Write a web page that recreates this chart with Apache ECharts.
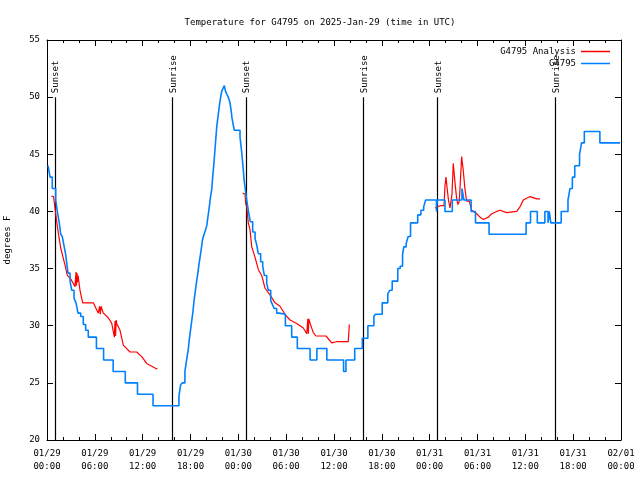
<!DOCTYPE html>
<html><head><meta charset="utf-8">
<script src="https://cdn.jsdelivr.net/npm/echarts@6/dist/echarts.min.js"></script>
<style>html,body{margin:0;padding:0;background:#fff}#c{width:640px;height:480px}</style>
</head><body><div id="c"></div>
<script>
// hours since 2025-01-29 00:00 UTC
const xTickLabels = ['01/29\n00:00','01/29\n06:00','01/29\n12:00','01/29\n18:00','01/30\n00:00','01/30\n06:00','01/30\n12:00','01/30\n18:00','01/31\n00:00','01/31\n06:00','01/31\n12:00','01/31\n18:00','02/01\n00:00'];

const sunEvents = [[0.96,'Sunset'],[15.72,'Sunrise'],[24.92,'Sunset'],[39.68,'Sunrise'],[48.96,'Sunset'],[63.77,'Sunrise']];

const stationObs = [[0.13,44],[0.38,43],[0.66,42],[1.09,41],[1.29,40],[1.54,39],[1.72,38],[1.92,37.8],[2.13,37],[2.35,36.2],[2.47,35.5],[2.63,34.6],[2.89,33.9],[3.10,33.1],[3.39,32.4],[3.64,32],[3.89,31.1],[4.23,30.8],[4.55,30.1],[4.85,29.6],[5.18,29],[6.2,28],[7.1,27],[8.3,26],[9.82,25],[11.35,24],[13.3,23],[16.55,23.8],[16.75,24.8],[16.95,25],[17.3,26],[17.45,26.7],[17.6,27.4],[17.72,27.9],[17.85,28.8],[18.0,29.6],[18.15,30.4],[18.3,31.2],[18.45,32.2],[18.6,33],[18.75,33.8],[18.9,34.5],[19.05,35.3],[19.2,36],[19.35,36.7],[19.5,37.5],[19.7,38],[19.9,38.4],[20.05,38.8],[20.2,39.6],[20.36,40.4],[20.5,41.2],[20.66,41.9],[20.76,42.8],[20.86,43.6],[20.97,44.5],[21.07,45.4],[21.18,46.4],[21.29,47.4],[21.45,48.3],[21.61,49.2],[21.76,49.9],[21.91,50.5],[22.1,50.8],[22.24,51],[22.4,50.5],[22.6,50.2],[22.74,50],[22.96,49.5],[23.1,48.8],[23.2,48.2],[23.35,47.6],[23.5,47.1],[24.21,46.5],[24.34,45.7],[24.45,45],[24.55,44.2],[24.65,43.4],[24.75,42.6],[24.9,41.8],[25.05,41],[25.25,40.1],[25.5,39.1],[25.8,38.2],[26.1,37.6],[26.3,37.1],[26.5,36.3],[26.8,35.6],[27.06,35.2],[27.26,34.4],[27.56,33.7],[27.76,33.1],[28.06,32.2],[28.31,31.8],[28.51,31.5],[28.81,31.1],[29.14,31],[29.9,30],[30.69,29],[31.4,28],[33.0,27],[33.85,28],[35.1,27],[37.2,26],[37.5,27],[38.6,28],[39.55,28.9],[40.25,30],[41.0,30.8],[41.2,31],[42.05,32],[42.75,32.8],[43.0,33.1],[43.3,33.9],[44.0,35],[44.3,35.2],[44.6,36.2],[44.75,36.9],[45.05,37.2],[45.3,37.8],[45.6,39],[46.5,39.7],[46.9,40.1],[47.25,40.4],[47.5,41],[48.85,40],[48.95,41],[49.92,40],[50.84,41],[52.05,42],[52.3,41],[53.2,40],[53.75,39],[55.45,38],[60.1,39],[60.65,40],[61.5,39],[62.45,40],[62.85,39],[63.0,40],[63.2,39],[64.5,40],[65.35,41],[65.6,42],[65.9,43],[66.2,44],[66.8,45],[67.05,46],[67.4,47],[69.35,46],[71.9,46]];

const analysisDay1 = [[0.54,41.35],[0.82,41.3],[1.0,40.3],[1.22,39.1],[1.51,37.7],[1.72,36.8],[2.01,36.0],[2.26,35.3],[2.55,34.4],[2.97,34.1],[3.3,33.7],[3.51,33.4],[3.64,34.7],[3.7,33.5],[3.76,34.6],[3.82,33.8],[3.89,34.4],[4.14,33.1],[4.48,32.0],[5.81,32.0],[6.44,31.1],[6.59,31.7],[6.69,31.0],[6.78,31.7],[7.06,31.1],[7.69,30.7],[8.12,30.2],[8.45,29.0],[8.53,30.4],[8.6,29.1],[8.68,30.5],[8.74,30.2],[9.16,29.6],[9.57,28.3],[10.41,27.7],[11.25,27.7],[11.45,27.8],[11.88,27.3],[12.51,26.7],[13.55,26.3],[13.84,26.2]];

const analysisDay2 = [[24.55,41.6],[24.84,41.5],[24.92,40.7],[25.05,40.4],[25.25,39.0],[25.46,38.4],[25.55,37.8],[25.68,36.9],[25.8,36.8],[26.09,36.0],[26.51,34.9],[26.93,34.4],[27.34,33.3],[27.97,32.7],[28.6,32.0],[29.23,31.7],[29.85,31.0],[30.48,30.5],[31.32,30.2],[32.15,29.8],[32.58,29.3],[32.72,30.6],[32.78,29.3],[32.84,30.6],[32.92,30.4],[33.15,29.9],[33.4,29.4],[33.74,29.1],[35.0,29.1],[35.71,28.5],[36.34,28.6],[37.79,28.6],[37.92,30.1]];

const analysisDay3 = [[48.67,40.3],[49.3,40.5],[49.8,40.5],[49.92,42.2],[50.05,43.0],[50.21,41.9],[50.36,41.0],[50.55,40.3],[50.68,40.4],[50.8,41.5],[50.96,44.2],[51.18,42.5],[51.39,41.1],[51.55,40.6],[51.72,40.9],[51.84,41.0],[52.01,44.8],[52.21,43.6],[52.42,42.0],[52.64,40.9],[52.97,40.9],[53.27,40.1],[53.9,39.8],[54.31,39.5],[54.73,39.3],[55.36,39.5],[55.78,39.8],[56.41,40.0],[56.82,40.1],[57.66,39.9],[58.92,40.0],[59.33,40.4],[59.75,41.0],[60.59,41.3],[61.43,41.1],[61.84,41.1]];

const FONT = 'DejaVu Sans Mono';
const RED = '#ff0000', BLUE = '#0080ff';
const chart = echarts.init(document.getElementById('c'), null, {renderer:'canvas'});

function xAxisCfg(pos, labels) {
  return {
    type:'value', min:0, max:72, interval:6, position:pos,
    axisLine:{show:true, onZero:false, lineStyle:{color:'#000', width:1}},
    axisTick:{show:true, inside:true, length:6, lineStyle:{color:'#000'}},
    minorTick:{show:true, splitNumber:3, length:3, lineStyle:{color:'#000'}},
    splitLine:{show:false}, minorSplitLine:{show:false},
    axisLabel:{show:labels, formatter:v => xTickLabels[Math.round(v/6)], fontFamily:FONT, fontSize:9, color:'#000', lineHeight:13, margin:7}
  };
}
function yAxisCfg(pos, labels) {
  return {
    type:'value', min:20, max:55, interval:5, position:pos,
    name: labels ? 'degrees F' : '', nameLocation:'middle', nameGap:35, nameRotate:90,
    nameTextStyle:{fontFamily:FONT, fontSize:9, color:'#000'},
    axisLine:{show:true, onZero:false, lineStyle:{color:'#000', width:1}},
    axisTick:{show:true, inside:true, length:6, lineStyle:{color:'#000'}},
    splitLine:{show:false},
    axisLabel:{show:labels, fontFamily:FONT, fontSize:9, color:'#000', margin:7}
  };
}

const redStyle = {type:'line', name:'G4795 Analysis', showSymbol:false, symbol:'none', color:RED, lineStyle:{color:RED, width:1.2}, xAxisIndex:0, yAxisIndex:0, z:3};

const option = {
  animation:false,
  backgroundColor:'#fff',
  title:{text:'Temperature for G4795 on 2025-Jan-29 (time in UTC)', left:'center', top:13,
    textStyle:{fontFamily:FONT, fontSize:9, fontWeight:'normal', color:'#000'}},
  legend:{data:['G4795 Analysis','G4795'], orient:'vertical', right:25, top:42, align:'right',
    icon:'rect', itemWidth:29, itemHeight:1.5, itemGap:3,
    textStyle:{fontFamily:FONT, fontSize:9, color:'#000'}},
  grid:{left:47, right:19, top:40, bottom:40, containLabel:false, outerBoundsMode:'none'},
  xAxis:[xAxisCfg('bottom', true), xAxisCfg('top', false)],
  yAxis:[yAxisCfg('left', true), yAxisCfg('right', false)],
  series:[
    {type:'custom', name:'sun', xAxisIndex:0, yAxisIndex:0, z:1, silent:true,
     data: sunEvents.map(e => [e[0], 20]),
     renderItem: function(params, api) {
       const t = api.value(0);
       const top = api.coord([t, 50]);
       const bot = api.coord([t, 20]);
       return {type:'group', children:[
         {type:'line', shape:{x1:Math.round(top[0])+0.5, y1:top[1], x2:Math.round(bot[0])+0.5, y2:bot[1]}, style:{stroke:'#000', lineWidth:1.2}},
         {type:'text', x:top[0]+1, y:top[1]-4, rotation:Math.PI/2,
          style:{text:sunEvents[params.dataIndex][1], font:'9px "DejaVu Sans Mono"', fill:'#000', align:'left', verticalAlign:'middle'}}
       ]};
     }},
    Object.assign({data:analysisDay1}, redStyle),
    Object.assign({data:analysisDay2}, redStyle),
    Object.assign({data:analysisDay3}, redStyle),
    {type:'line', name:'G4795', step:'end', showSymbol:false, symbol:'none', color:BLUE, lineStyle:{color:BLUE, width:1.6}, data:stationObs, z:4}
  ]
};
chart.setOption(option);
</script>
</body></html>
